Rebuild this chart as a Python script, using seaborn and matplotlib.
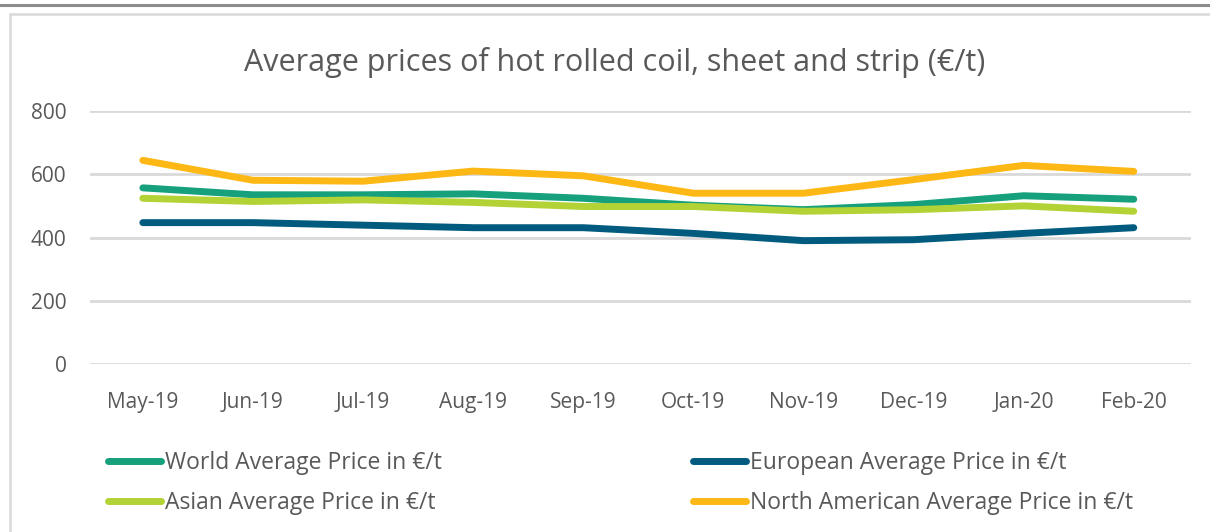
import matplotlib.pyplot as plt
import matplotlib as mpl
import seaborn as sns
import numpy as np
import pandas as pd

# data (EUR per tonne)
months = ["May-19", "Jun-19", "Jul-19", "Aug-19", "Sep-19",
          "Oct-19", "Nov-19", "Dec-19", "Jan-20", "Feb-20"]
world = [557, 535, 535, 538, 524, 502, 488, 504, 532, 521]
european = [447, 447, 439, 431, 431, 413, 390, 393, 413, 431]
asian = [524, 514, 519, 511, 498, 498, 483, 488, 500, 483]
north_american = [644, 581, 578, 610, 595, 540, 540, 583, 628, 609]

labels = ["World Average Price in \u20ac/t", "European Average Price in \u20ac/t",
          "Asian Average Price in \u20ac/t", "North American Average Price in \u20ac/t"]
colors = ["#16a07c", "#005b7f", "#b2d235", "#fdb815"]

df = pd.DataFrame({"month": months * 4,
                   "idx": list(range(len(months))) * 4,
                   "price": world + european + asian + north_american,
                   "series": np.repeat(labels, len(months))})

sns.set_theme(style="white")
plt.rcParams['font.family'] = ['Open Sans', 'DejaVu Sans']
text_c = "#595959"

fig = plt.figure(figsize=(12.1, 5.32), dpi=100)
ax = fig.add_axes([90 / 1210, 1 - 364 / 532, (1191 - 90) / 1210, (364 - 111) / 532])

sns.lineplot(data=df, x="idx", y="price", hue="series", hue_order=labels,
             palette=colors, linewidth=5, legend=False, ax=ax,
             solid_capstyle="round")

ax.set_xlim(-0.48, 9.52)
ax.set_ylim(0, 800)
ax.set_yticks([0, 200, 400, 600, 800])
ax.set_xticks(range(len(months)))
ax.set_xticklabels(months)
ax.yaxis.grid(True, color="#d9d9d9", linewidth=2)
ax.set_axisbelow(True)
for sp in ax.spines.values():
    sp.set_visible(False)
ax.tick_params(axis="both", length=0, labelsize=15, colors=text_c)
ax.tick_params(axis="x", pad=20)
ax.tick_params(axis="y", pad=17)
ax.set_xlabel("")
ax.set_ylabel("")

fig.text(615 / 1210, 1 - 62 / 532, "Average prices of hot rolled coil, sheet and strip (\u20ac/t)",
         ha="center", va="center", fontsize=22, color=text_c)

# legend in the reference order: world / european on row 1, asian / north american on row 2
handles = [mpl.lines.Line2D([], [], color=c, linewidth=5, solid_capstyle="round") for c in colors]
order = [0, 2, 1, 3]
leg = fig.legend([handles[i] for i in order], [labels[i] for i in order],
                 loc="center left", bbox_to_anchor=(108 / 1210, 1 - 483 / 532),
                 ncol=2, frameon=False, fontsize=16.5, handlelength=2.3,
                 handletextpad=0.2, labelspacing=0.7, columnspacing=10.95,
                 borderaxespad=0, borderpad=0)
for t in leg.get_texts():
    t.set_color(text_c)

# chart frame like the original screenshot
fig.add_artist(mpl.lines.Line2D([0, 1], [1 - 5 / 532, 1 - 5 / 532], color="#8c8c8c", linewidth=2.2))
fig.add_artist(mpl.lines.Line2D([10 / 1210, 1], [1 - 14 / 532, 1 - 14 / 532], color="#d9d9d9", linewidth=1.8))
fig.add_artist(mpl.lines.Line2D([10 / 1210, 10 / 1210], [0, 1 - 14 / 532], color="#d9d9d9", linewidth=1.8))

fig.savefig("out.png", dpi=100)
